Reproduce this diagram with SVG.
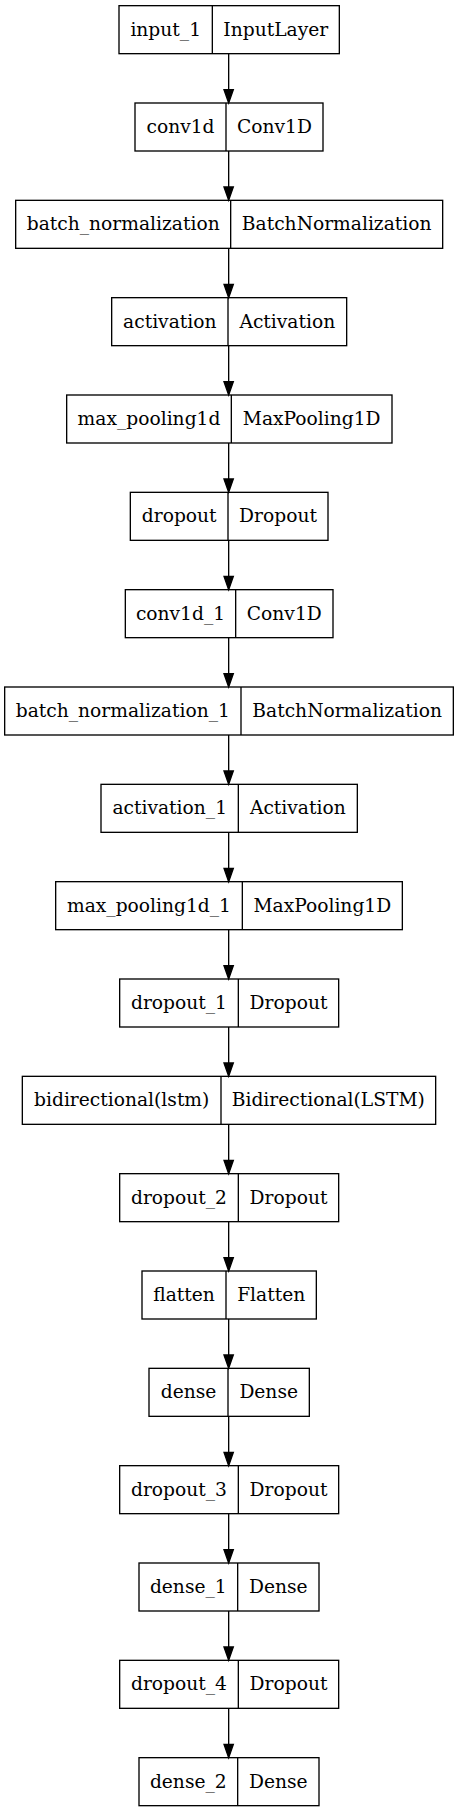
<svg xmlns="http://www.w3.org/2000/svg" width="459" height="1812" viewBox="0 0 459 1812">
<style>
.box{fill:none;stroke:#000;stroke-width:1.33}
.div{stroke:#000;stroke-width:1.33}
.t{font-family:"DejaVu Serif",serif;font-size:18.67px;fill:#000;text-anchor:middle}
.e{stroke:#000;stroke-width:1.33;fill:none}
.ah{fill:#000;stroke:#000;stroke-width:1.33}
</style>
<rect x="0" y="0" width="459" height="1812" fill="#fff"/>
<g id="connectors">
<path class="e" d="M228.67,53.67V89.67"/><polygon class="ah" points="224,89.67 228.67,103 233.33,89.67"/>
<path class="e" d="M228.67,151V187"/><polygon class="ah" points="224,187 228.67,200.33 233.33,187"/>
<path class="e" d="M228.67,248.33V284.33"/><polygon class="ah" points="224,284.33 228.67,297.67 233.33,284.33"/>
<path class="e" d="M228.67,345.67V381.67"/><polygon class="ah" points="224,381.67 228.67,395 233.33,381.67"/>
<path class="e" d="M228.67,443V479"/><polygon class="ah" points="224,479 228.67,492.33 233.33,479"/>
<path class="e" d="M228.67,540.33V576.33"/><polygon class="ah" points="224,576.33 228.67,589.67 233.33,576.33"/>
<path class="e" d="M228.67,637.67V673.67"/><polygon class="ah" points="224,673.67 228.67,687 233.33,673.67"/>
<path class="e" d="M228.67,735V771"/><polygon class="ah" points="224,771 228.67,784.33 233.33,771"/>
<path class="e" d="M228.67,832.33V868.33"/><polygon class="ah" points="224,868.33 228.67,881.67 233.33,868.33"/>
<path class="e" d="M228.67,929.67V965.67"/><polygon class="ah" points="224,965.67 228.67,979 233.33,965.67"/>
<path class="e" d="M228.67,1027V1063"/><polygon class="ah" points="224,1063 228.67,1076.33 233.33,1063"/>
<path class="e" d="M228.67,1124.33V1160.33"/><polygon class="ah" points="224,1160.33 228.67,1173.67 233.33,1160.33"/>
<path class="e" d="M228.67,1221.67V1257.67"/><polygon class="ah" points="224,1257.67 228.67,1271 233.33,1257.67"/>
<path class="e" d="M228.67,1319V1355"/><polygon class="ah" points="224,1355 228.67,1368.33 233.33,1355"/>
<path class="e" d="M228.67,1416.33V1452.33"/><polygon class="ah" points="224,1452.33 228.67,1465.67 233.33,1452.33"/>
<path class="e" d="M228.67,1513.67V1549.67"/><polygon class="ah" points="224,1549.67 228.67,1563 233.33,1549.67"/>
<path class="e" d="M228.67,1611V1647"/><polygon class="ah" points="224,1647 228.67,1660.33 233.33,1647"/>
<path class="e" d="M228.67,1708.33V1744.33"/><polygon class="ah" points="224,1744.33 228.67,1757.67 233.33,1744.33"/>
</g>
<g id="input_1"><rect class="box" x="119" y="5.67" width="220.33" height="48"/><line class="div" x1="212.33" y1="5.67" x2="212.33" y2="53.67"/><text class="t" x="165.7" y="35.67">input_1</text><text class="t" x="275.8" y="35.67">InputLayer</text></g>
<g id="conv1d"><rect class="box" x="135" y="103" width="188" height="48"/><line class="div" x1="226" y1="103" x2="226" y2="151"/><text class="t" x="180.5" y="133">conv1d</text><text class="t" x="274.5" y="133">Conv1D</text></g>
<g id="batch_normalization"><rect class="box" x="15.67" y="200.33" width="427" height="48"/><line class="div" x1="230.67" y1="200.33" x2="230.67" y2="248.33"/><text class="t" x="123.2" y="230.33">batch_normalization</text><text class="t" x="336.7" y="230.33">BatchNormalization</text></g>
<g id="activation"><rect class="box" x="111.67" y="297.67" width="235" height="48"/><line class="div" x1="228" y1="297.67" x2="228" y2="345.67"/><text class="t" x="169.8" y="327.67">activation</text><text class="t" x="287.3" y="327.67">Activation</text></g>
<g id="max_pooling1d"><rect class="box" x="66.67" y="395" width="325.33" height="48"/><line class="div" x1="231.33" y1="395" x2="231.33" y2="443"/><text class="t" x="149" y="425">max_pooling1d</text><text class="t" x="311.7" y="425">MaxPooling1D</text></g>
<g id="dropout"><rect class="box" x="130.33" y="492.33" width="197.67" height="48"/><line class="div" x1="228" y1="492.33" x2="228" y2="540.33"/><text class="t" x="179.2" y="522.33">dropout</text><text class="t" x="278" y="522.33">Dropout</text></g>
<g id="conv1d_1"><rect class="box" x="125.33" y="589.67" width="207.67" height="48"/><line class="div" x1="235.67" y1="589.67" x2="235.67" y2="637.67"/><text class="t" x="180.5" y="619.67">conv1d_1</text><text class="t" x="284.3" y="619.67">Conv1D</text></g>
<g id="batch_normalization_1"><rect class="box" x="4.67" y="687" width="448.67" height="48"/><line class="div" x1="241" y1="687" x2="241" y2="735"/><text class="t" x="122.8" y="717">batch_normalization_1</text><text class="t" x="347.2" y="717">BatchNormalization</text></g>
<g id="activation_1"><rect class="box" x="101" y="784.33" width="256.33" height="48"/><line class="div" x1="238.33" y1="784.33" x2="238.33" y2="832.33"/><text class="t" x="169.7" y="814.33">activation_1</text><text class="t" x="297.8" y="814.33">Activation</text></g>
<g id="max_pooling1d_1"><rect class="box" x="55.67" y="881.67" width="346.67" height="48"/><line class="div" x1="242.33" y1="881.67" x2="242.33" y2="929.67"/><text class="t" x="149" y="911.67">max_pooling1d_1</text><text class="t" x="322.3" y="911.67">MaxPooling1D</text></g>
<g id="dropout_1"><rect class="box" x="119.67" y="979" width="219" height="48"/><line class="div" x1="238.33" y1="979" x2="238.33" y2="1027"/><text class="t" x="179" y="1009">dropout_1</text><text class="t" x="288.5" y="1009">Dropout</text></g>
<g id="bidirectional_lstm"><rect class="box" x="22.33" y="1076.33" width="413.33" height="48"/><line class="div" x1="221" y1="1076.33" x2="221" y2="1124.33"/><text class="t" x="121.7" y="1106.33">bidirectional(lstm)</text><text class="t" x="328.3" y="1106.33">Bidirectional(LSTM)</text></g>
<g id="dropout_2"><rect class="box" x="119.67" y="1173.67" width="219" height="48"/><line class="div" x1="238.33" y1="1173.67" x2="238.33" y2="1221.67"/><text class="t" x="179" y="1203.67">dropout_2</text><text class="t" x="288.5" y="1203.67">Dropout</text></g>
<g id="flatten"><rect class="box" x="142" y="1271" width="174.33" height="48"/><line class="div" x1="226" y1="1271" x2="226" y2="1319"/><text class="t" x="184" y="1301">flatten</text><text class="t" x="271.2" y="1301">Flatten</text></g>
<g id="dense"><rect class="box" x="149" y="1368.33" width="160.33" height="48"/><line class="div" x1="228" y1="1368.33" x2="228" y2="1416.33"/><text class="t" x="188.5" y="1398.33">dense</text><text class="t" x="268.7" y="1398.33">Dense</text></g>
<g id="dropout_3"><rect class="box" x="119.67" y="1465.67" width="219" height="48"/><line class="div" x1="238.33" y1="1465.67" x2="238.33" y2="1513.67"/><text class="t" x="179" y="1495.67">dropout_3</text><text class="t" x="288.5" y="1495.67">Dropout</text></g>
<g id="dense_1"><rect class="box" x="139" y="1563" width="180" height="48"/><line class="div" x1="237.67" y1="1563" x2="237.67" y2="1611"/><text class="t" x="188.3" y="1593">dense_1</text><text class="t" x="278.3" y="1593">Dense</text></g>
<g id="dropout_4"><rect class="box" x="119.67" y="1660.33" width="219" height="48"/><line class="div" x1="238.33" y1="1660.33" x2="238.33" y2="1708.33"/><text class="t" x="179" y="1690.33">dropout_4</text><text class="t" x="288.5" y="1690.33">Dropout</text></g>
<g id="dense_2"><rect class="box" x="139" y="1757.67" width="180" height="48"/><line class="div" x1="237.67" y1="1757.67" x2="237.67" y2="1805.67"/><text class="t" x="188.3" y="1787.67">dense_2</text><text class="t" x="278.3" y="1787.67">Dense</text></g>
</svg>
